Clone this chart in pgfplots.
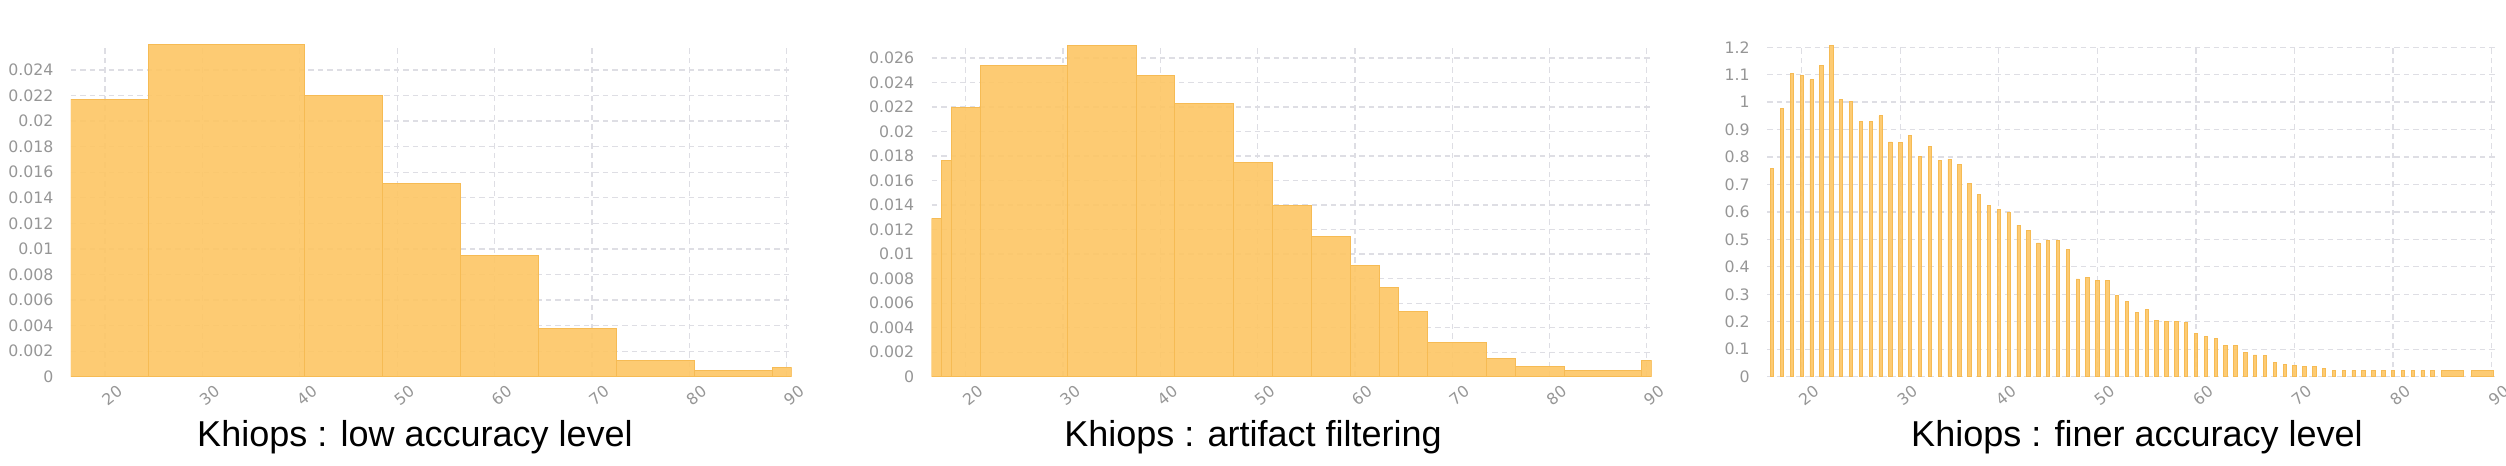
\documentclass[border=0pt]{standalone}
\usepackage{pgfplots}
\pgfplotsset{compat=1.18}
\usepackage{fontspec}
\setmainfont{Liberation Sans}
\newfontfamily\tickfont{DejaVu Sans}
\definecolor{barfill}{RGB}{253,199,103}
\definecolor{baredge}{RGB}{246,187,84}
\definecolor{tickgray}{RGB}{150,150,150}
\definecolor{gridgray}{RGB}{222,222,228}

\pgfplotstableread{
x y
16.5 0.0217
24.5 0.0260
40.5 0.0220
48.5 0.01508
56.5 0.0095
64.5 0.00378
72.5 0.00128
80.5 0.00052
88.5 0.0007
90.5 0.0007
}\lowacc

\pgfplotstableread{
x y
16.5 0.01289
17.5 0.01764
18.5 0.02193
21.5 0.02535
30.5 0.02703
37.5 0.02459
41.5 0.02231
47.5 0.01745
51.5 0.01395
55.5 0.01143
59.5 0.00904
62.5 0.00727
64.5 0.00532
67.5 0.00277
73.5 0.00152
76.5 0.00087
81.5 0.00054
89.5 0.00133
90.5 0.00133
}\artifact

\pgfplotstableread{
x y
17 0.758
18 0.978
19 1.105
20 1.097
21 1.081
22 1.133
23 1.205
24 1.010
25 1.004
26 0.930
27 0.930
28 0.950
29 0.855
30 0.852
31 0.879
32 0.802
33 0.840
34 0.788
35 0.792
36 0.773
37 0.703
38 0.664
39 0.624
40 0.610
41 0.599
42 0.552
43 0.532
44 0.487
45 0.496
46 0.496
47 0.463
48 0.356
49 0.362
50 0.349
51 0.349
52 0.295
53 0.273
54 0.235
55 0.245
56 0.206
57 0.200
58 0.200
59 0.196
60 0.158
61 0.148
62 0.139
63 0.115
64 0.115
65 0.088
66 0.079
67 0.078
68 0.052
69 0.045
70 0.040
71 0.036
72 0.036
73 0.030
74 0.023
75 0.023
76 0.023
77 0.023
78 0.023
79 0.023
80 0.023
81 0.023
82 0.023
83 0.023
84 0.023
}\finer

\pgfplotstableread{
x y
86.05 0.023
89.05 0.023
}\finerblocks

\pgfplotsset{
  kstyle/.style={
    scale only axis, enlargelimits=false,
    axis line style={draw=none}, tick style={draw=none},
    xmin=16.5, xmax=90.5, xtick={20,30,40,50,60,70,80,90}, ymin=0,
    grid=major,
    major grid style={gridgray, line width=0.5pt, dash pattern=on 2.2pt off 1.6pt},
    height=132.9pt, anchor=south west,
    tick label style={font={\tickfont\fontsize{6.3}{7}\selectfont}, text=tickgray},
    /pgf/number format/assume math mode=true,
    /pgf/number format/fixed, /pgf/number format/precision=3,
    scaled y ticks=false, scaled x ticks=false,
    yticklabel style={xshift=-3.5pt},
    xticklabel style={rotate=38, anchor=north east, inner sep=0pt, xshift=1.8pt, yshift=-5pt},
  },
  histbars/.style={ybar interval, fill=barfill, fill opacity=0.92, draw=baredge, line width=0.4pt},
}

\begin{document}
\begin{tikzpicture}
\useasboundingbox (0,0) rectangle (1002.4pt,186.4pt);

\begin{axis}[kstyle, at={(28.4pt,35.72pt)}, width=288.28pt,
  ymax=0.026, ytick={0,0.002,0.004,0.006,0.008,0.01,0.012,0.014,0.016,0.018,0.02,0.022,0.024}]
\addplot[histbars] table[x=x,y=y] {\lowacc};
\end{axis}

\begin{axis}[kstyle, at={(372.68pt,35.72pt)}, width=288pt,
  ymax=0.0271, ytick={0,0.002,0.004,0.006,0.008,0.01,0.012,0.014,0.016,0.018,0.02,0.022,0.024,0.026}]
\addplot[histbars] table[x=x,y=y] {\artifact};
\end{axis}

\begin{axis}[kstyle, at={(706.88pt,35.72pt)}, width=291.76pt,
  ymax=1.21, ytick={0,0.1,0.2,0.3,0.4,0.5,0.6,0.7,0.8,0.9,1,1.1,1.2}]
\addplot[ybar, bar width=0.34, bar shift=0pt, fill=barfill, fill opacity=0.92, draw=baredge, line width=0.3pt] table[x=x,y=y] {\finer};
\addplot[ybar, bar width=2.25, bar shift=0pt, fill=barfill, fill opacity=0.92, draw=baredge, line width=0.3pt] table[x=x,y=y] {\finerblocks};
\end{axis}

\node[anchor=base, font=\fontsize{14.4}{16}\selectfont] at (166pt,7.6pt) {Khiops : low accuracy level};
\node[anchor=base, font=\fontsize{14.4}{16}\selectfont] at (501.2pt,7.6pt) {Khiops : artifact filtering};
\node[anchor=base, font=\fontsize{14.4}{16}\selectfont] at (854.8pt,7.6pt) {Khiops : finer accuracy level};
\end{tikzpicture}
\end{document}
